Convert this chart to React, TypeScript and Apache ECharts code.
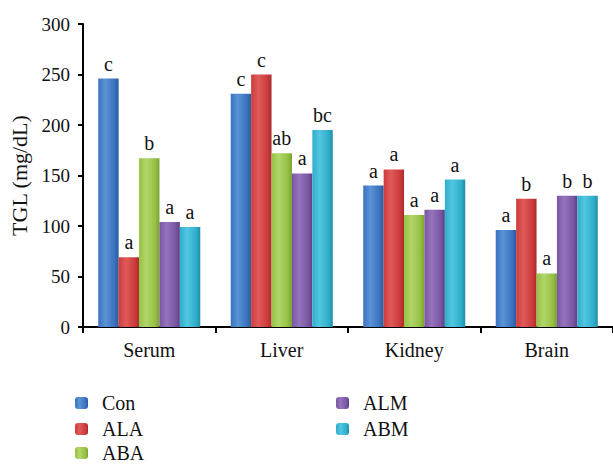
import React, { useEffect, useRef } from "react";
import * as echarts from "echarts";

const categories = ["Serum", "Liver", "Kidney", "Brain"];
const seriesNames = ["Con", "ALA", "ABA", "ALM", "ABM"];
const conValues = [246, 231, 140, 96];
const alaValues = [69, 250, 156, 127];
const abaValues = [167, 172, 111, 53];
const almValues = [104, 152, 116, 130];
const abmValues = [99, 195, 146, 130];
const conLetters = ["c", "c", "a", "a"];
const alaLetters = ["a", "c", "a", "b"];
const abaLetters = ["b", "ab", "a", "a"];
const almLetters = ["a", "a", "a", "b"];
const abmLetters = ["a", "bc", "a", "b"];
const yTicks = [0, 50, 100, 150, 200, 250, 300];

const palette = [
  ["#5a93d6", "#3a72bd", "#2a5a9e"],
  ["#e05a5a", "#cc3b3b", "#a82c2c"],
  ["#b0d66a", "#96c043", "#78a030"],
  ["#9474bc", "#7a56a2", "#5f3f85"],
  ["#52c6e0", "#2eaecb", "#1f8ea8"],
];

const FONT = "Liberation Serif";
const legendLeft = [75, 75, 75, 336, 336];
const legendTop = [393, 419, 443, 393, 419];

export default function App() {
  const ref = useRef<HTMLDivElement>(null);
  useEffect(() => {
    if (!ref.current) return;
    const chart = echarts.init(ref.current, null, { renderer: "svg" });
    const values = [conValues, alaValues, abaValues, almValues, abmValues];
    const letters = [conLetters, alaLetters, abaLetters, almLetters, abmLetters];
    const series = seriesNames.map((name, i) => ({
      name,
      type: "bar",
      data: values[i],
      barGap: "0%",
      barCategoryGap: "23%",
      itemStyle: {
        color: new echarts.graphic.LinearGradient(0, 0, 1, 0, [
          { offset: 0, color: palette[i][1] },
          { offset: 0.35, color: palette[i][0] },
          { offset: 0.8, color: palette[i][1] },
          { offset: 1, color: palette[i][2] },
        ]),
      },
      label: {
        show: true,
        position: "top",
        distance: 5,
        fontFamily: FONT,
        fontSize: 20,
        color: "#111",
        formatter: (p: any) => letters[i][p.dataIndex],
      },
    }));
    const legends = seriesNames.map((name, i) => ({
      data: [name],
      orient: "horizontal",
      left: legendLeft[i],
      top: legendTop[i],
      padding: 0,
      itemWidth: 13,
      itemHeight: 12,
      textStyle: { fontFamily: FONT, fontSize: 20, lineHeight: 20, color: "#111", padding: [0, 0, 0, 9] },
    }));
    chart.setOption({
      animation: false,
      textStyle: { fontFamily: FONT },
      grid: { left: 83, top: 24, width: 538, height: 303 },
      legend: legends,
      xAxis: {
        type: "category",
        data: categories,
        axisLine: { lineStyle: { color: "#000", width: 2 } },
        axisTick: { show: true, length: 6, lineStyle: { color: "#000", width: 2 } },
        axisLabel: { fontFamily: FONT, fontSize: 20, color: "#111", margin: 13 },
      },
      yAxis: {
        type: "value",
        min: yTicks[0],
        max: yTicks[yTicks.length - 1],
        interval: 50,
        name: "TGL (mg/dL)",
        nameLocation: "middle",
        nameGap: 52,
        nameTextStyle: { fontFamily: FONT, fontSize: 22, color: "#111" },
        splitLine: { show: false },
        axisLine: { show: true, lineStyle: { color: "#000", width: 2 } },
        axisTick: { show: true, length: 5, lineStyle: { color: "#000", width: 2 } },
        axisLabel: { fontFamily: FONT, fontSize: 19, color: "#111", margin: 13 },
      },
      series,
    });
    return () => chart.dispose();
  }, []);
  return <div ref={ref} style={{ width: 613, height: 464, position: "absolute", left: 0, top: 0 }} />;
}
